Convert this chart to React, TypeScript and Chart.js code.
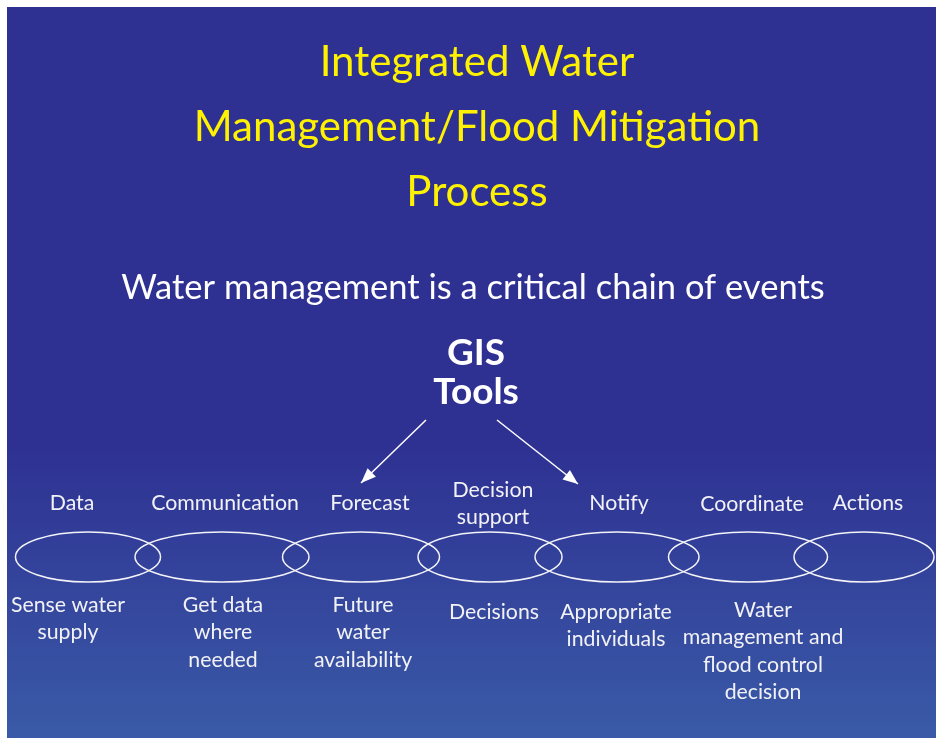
import { useEffect, useRef } from 'react';
import { Chart, registerables } from 'chart.js';

Chart.register(...registerables);

const W = 936;
const H = 738;

const titleLines = ['Integrated Water', 'Management/Flood Mitigation', 'Process'];
const titleY = [62, 127, 192];
const subtitle = 'Water management is a critical chain of events';
const hubLines = ['GIS', 'Tools'];
const hubY = [353, 392];

const stages = ['Data', 'Communication', 'Forecast', 'Decision support', 'Notify', 'Coordinate', 'Actions'];
const ringCenters = [88, 222, 361, 490, 617, 748, 864];
const ringWidths = [145, 174, 157, 144, 164, 159, 140];
const ringY = 557;
const ringHeight = 50;

const topLabels = [['Data'], ['Communication'], ['Forecast'], ['Decision', 'support'], ['Notify'], ['Coordinate'], ['Actions']];
const topX = [72, 225, 370, 493, 619, 752, 868];
const topY = [503, 503, 503, 490, 503, 504, 503];

const bottomLabels = [
  ['Sense water', 'supply'],
  ['Get data', 'where', 'needed'],
  ['Future', 'water', 'availability'],
  ['Decisions'],
  ['Appropriate', 'individuals'],
  ['Water', 'management and', 'flood control', 'decision'],
  [],
];
const bottomX = [68, 223, 363, 494, 616, 763, 868];
const bottomY = [605, 605, 605, 612, 612, 610, 610];
const lineStep = 27.5;

const arrowLeft = [{ x: 426, y: 420 }, { x: 361, y: 483 }];
const arrowRight = [{ x: 497, y: 420 }, { x: 578, y: 484 }];

const FONT = 'Lato, "Open Sans", sans-serif';

const diagramPlugin = {
  id: 'diagram',
  beforeDraw(chart: any) {
    const { ctx, scales } = chart;
    const xs = scales.x;
    const ys = scales.y;
    ctx.save();
    ctx.fillStyle = '#ffffff';
    ctx.fillRect(0, 0, chart.width, chart.height);
    const x0 = xs.getPixelForValue(7);
    const y0 = ys.getPixelForValue(7);
    const x1 = xs.getPixelForValue(W);
    const y1 = ys.getPixelForValue(H);
    const g = ctx.createLinearGradient(0, y0, 0, y1);
    g.addColorStop(0, '#2e3092');
    g.addColorStop(0.6, '#2e3192');
    g.addColorStop(1, '#3a5aa7');
    ctx.fillStyle = g;
    ctx.fillRect(x0, y0, x1 - x0, y1 - y0);
    ctx.restore();
  },
  afterDatasetsDraw(chart: any) {
    const { ctx, scales } = chart;
    const xs = scales.x;
    const ys = scales.y;
    ctx.save();
    // rings
    ctx.strokeStyle = '#f4f4f8';
    ctx.lineWidth = 1.5;
    ringCenters.forEach((cx, i) => {
      const px = xs.getPixelForValue(cx);
      const py = ys.getPixelForValue(ringY);
      const rx = (xs.getPixelForValue(cx + ringWidths[i] / 2) - xs.getPixelForValue(cx - ringWidths[i] / 2)) / 2;
      const ry = Math.abs(ys.getPixelForValue(ringY + ringHeight / 2) - ys.getPixelForValue(ringY - ringHeight / 2)) / 2;
      ctx.beginPath();
      ctx.ellipse(px, py, rx, ry, 0, 0, Math.PI * 2);
      ctx.stroke();
    });
    // arrowheads
    ctx.fillStyle = '#ffffff';
    [arrowLeft, arrowRight].forEach((a) => {
      const sx = xs.getPixelForValue(a[0].x);
      const sy = ys.getPixelForValue(a[0].y);
      const ex = xs.getPixelForValue(a[1].x);
      const ey = ys.getPixelForValue(a[1].y);
      const ang = Math.atan2(ey - sy, ex - sx);
      const len = 15;
      const half = 6;
      ctx.beginPath();
      ctx.moveTo(ex, ey);
      ctx.lineTo(ex - len * Math.cos(ang) + half * Math.sin(ang), ey - len * Math.sin(ang) - half * Math.cos(ang));
      ctx.lineTo(ex - len * Math.cos(ang) - half * Math.sin(ang), ey - len * Math.sin(ang) + half * Math.cos(ang));
      ctx.closePath();
      ctx.fill();
    });
    // texts
    ctx.textAlign = 'center';
    ctx.textBaseline = 'middle';
    const cx = xs.getPixelForValue(477);
    ctx.fillStyle = '#fff200';
    ctx.font = `42px ${FONT}`;
    titleLines.forEach((t, i) => ctx.fillText(t, cx, ys.getPixelForValue(titleY[i])));
    ctx.fillStyle = '#ffffff';
    ctx.font = `34.5px ${FONT}`;
    ctx.fillText(subtitle, xs.getPixelForValue(473), ys.getPixelForValue(288));
    ctx.font = `bold 37px ${FONT}`;
    hubLines.forEach((t, i) => ctx.fillText(t, xs.getPixelForValue(476), ys.getPixelForValue(hubY[i])));
    ctx.fillStyle = '#f2f2f6';
    ctx.font = `21.3px ${FONT}`;
    topLabels.forEach((lines, i) => {
      lines.forEach((t, j) => ctx.fillText(t, xs.getPixelForValue(topX[i]), ys.getPixelForValue(topY[i] + j * lineStep)));
    });
    bottomLabels.forEach((lines, i) => {
      lines.forEach((t, j) => ctx.fillText(t, xs.getPixelForValue(bottomX[i]), ys.getPixelForValue(bottomY[i] + j * lineStep)));
    });
    ctx.restore();
  },
};

export default function App() {
  const ref = useRef<HTMLCanvasElement>(null);
  useEffect(() => {
    if (!ref.current) return;
    const chart = new Chart(ref.current, {
      type: 'scatter',
      data: {
        datasets: [
          {
            label: 'Stages',
            data: ringCenters.map((x, i) => ({ x, y: ringY, name: stages[i] })) as any,
            pointRadius: 0,
            showLine: false,
          },
          {
            label: 'GIS to Forecast',
            data: arrowLeft,
            showLine: true,
            borderColor: '#ffffff',
            borderWidth: 1.5,
            pointRadius: 0,
          },
          {
            label: 'GIS to Notify',
            data: arrowRight,
            showLine: true,
            borderColor: '#ffffff',
            borderWidth: 1.5,
            pointRadius: 0,
          },
        ],
      },
      options: {
        responsive: false,
        animation: false,
        layout: { padding: 0 },
        plugins: { legend: { display: false }, tooltip: { enabled: false }, title: { display: false } },
        scales: {
          x: { type: 'linear', min: 0, max: W, display: false },
          y: { type: 'linear', min: 0, max: H, reverse: true, display: false },
        },
      },
      plugins: [diagramPlugin],
    });
    return () => chart.destroy();
  }, []);
  return (
    <div style={{ position: 'fixed', left: 0, top: 0, width: W, height: H, background: '#fff' }}>
      <canvas ref={ref} width={W} height={H} style={{ display: 'block' }} />
    </div>
  );
}
